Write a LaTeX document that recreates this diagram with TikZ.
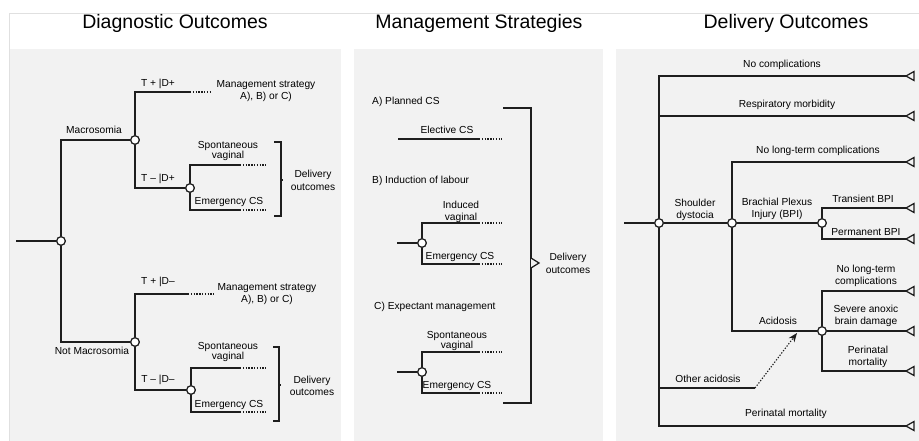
\documentclass[tikz,border=0pt]{standalone}
\usepackage{fontspec}
\setmainfont{Liberation Sans}
\usetikzlibrary{arrows.meta}
\definecolor{panelbg}{HTML}{F2F2F2}
\definecolor{framec}{HTML}{E0E0E0}
\definecolor{inkc}{HTML}{1E1E1E}
\begin{document}
\begin{tikzpicture}[x=1pt,y=-1pt,
  ln/.style={line width=1.25pt,draw=inkc},
  dots/.style={line width=1.2pt,draw=inkc,dash pattern=on 1.3pt off 1.5pt},
  chance/.style={circle,draw=inkc,fill=white,line width=1.15pt,minimum size=8.5pt,inner sep=0pt},
  lbl/.style={font=\fontsize{10.2}{12.5}\selectfont,inner sep=0pt,align=center,text=black},
  lbltight/.style={font=\fontsize{10.2}{10.5}\selectfont,inner sep=0pt,align=center,text=black},
  ttl/.style={font=\fontsize{19.5}{22}\selectfont,inner sep=0pt,anchor=base},
  pics/endL/.style={code={\draw[ln,fill=panelbg] (0,0) -- (8,-4.5) -- (8,4.5) -- cycle;}}
]
\useasboundingbox (0,0) rectangle (919,440);
\fill[white] (0,0) rectangle (919,440);
% frame and panels
\draw[framec,line width=1pt] (9.5,450) -- (9.5,13) -- (930,13);
\fill[panelbg] (10,49) rectangle (341,445);
\fill[panelbg] (354,49) rectangle (603,445);
\fill[panelbg] (616,49) rectangle (925,445);
% titles
\node[ttl] (t-diag) at (175,28.3) {Diagnostic Outcomes};
\node[ttl] (t-man) at (479,28.3) {Management Strategies};
\node[ttl] (t-del) at (786,28.3) {Delivery Outcomes};

%% ================= LEFT PANEL =================
\coordinate (r0) at (16,241);
\node[chance] (c0) at (61,241) {};
\node[chance] (c1) at (135,140) {};
\node[chance] (c2) at (135,342) {};
\node[chance] (c3) at (190,188) {};
\node[chance] (c4) at (191,390) {};
\coordinate (a1) at (190,92);  \coordinate (a1e) at (212,92);
\coordinate (s1) at (240,165); \coordinate (s1e) at (266,165);
\coordinate (e1) at (240,210); \coordinate (e1e) at (266,210);
\coordinate (a2) at (188,294); \coordinate (a2e) at (214,294);
\coordinate (s2) at (240,368); \coordinate (s2e) at (266,368);
\coordinate (e2) at (240,412); \coordinate (e2e) at (266,412);

\draw[ln] (r0) -- (c0);
\draw[ln] (c0) |- (c1);
\draw[ln] (c0) |- (c2);
\draw[ln] (c1) |- (a1);  \draw[dots] (a1) -- (a1e);
\draw[ln] (c1) |- (c3);
\draw[ln] (c3) |- (s1);  \draw[dots] (s1) -- (s1e);
\draw[ln] (c3) |- (e1);  \draw[dots] (e1) -- (e1e);
\draw[ln] (c2) |- (a2);  \draw[dots] (a2) -- (a2e);
\draw[ln] (c2) |- (c4);
\draw[ln] (c4) |- (s2);  \draw[dots] (s2) -- (s2e);
\draw[ln] (c4) |- (e2);  \draw[dots] (e2) -- (e2e);
% redraw circles on top
\foreach \n in {c0,c1,c2,c3,c4} \node[chance] at (\n) {};

% brackets
\coordinate (b1t) at (274,142); \coordinate (b1b) at (274,216); \coordinate (b1m) at (281,180);
\draw[ln] (b1t) -- ++(7,0) -- ++(0,74) -- (b1b);
\draw[ln] (b1m) -- ++(2,0);
\coordinate (b2t) at (273,347); \coordinate (b2b) at (273,421); \coordinate (b2m) at (279,385);
\draw[ln] (b2t) -- ++(6,0) -- ++(0,74) -- (b2b);
\draw[ln] (b2m) -- ++(2,0);

% labels
\node[lbl] (l-mac) at (94,130) {Macrosomia};
\node[lbl] (l-nmac) at (92,351) {Not Macrosomia};
\node[lbl] (l-tpdp) at (158,84) {T + |D+};
\node[lbl] (l-ms1) at (266,91) {Management strategy\\A), B) or C)};
\node[lbl] (l-tmdp) at (158,179) {T – |D+};
\node[lbltight] (l-sv1) at (228,151) {Spontaneous\\vaginal};
\node[lbl] (l-ec1) at (229,202) {Emergency CS};
\node[lbl] (l-do1) at (313,180.5) {Delivery\\outcomes};
\node[lbl] (l-tpdm) at (158,282) {T + |D–};
\node[lbl] (l-ms2) at (267,294) {Management strategy\\A), B) or C)};
\node[lbl] (l-tmdm) at (158,380) {T – |D–};
\node[lbltight] (l-sv2) at (228,352) {Spontaneous\\vaginal};
\node[lbl] (l-ec2) at (229,405) {Emergency CS};
\node[lbl] (l-do2) at (312,386) {Delivery\\outcomes};

%% ================= MIDDLE PANEL =================
\node[lbl,anchor=west] (l-A) at (372,102) {A) Planned CS};
\node[lbl] (l-el) at (447,130) {Elective CS};
\coordinate (el0) at (398,139); \coordinate (el1) at (479,139); \coordinate (el2) at (502,139);
\draw[ln] (el0) -- (el1); \draw[dots] (el1) -- (el2);

\node[lbl,anchor=west] (l-B) at (372,181) {B) Induction of labour};
\coordinate (ib0) at (397,243);
\node[chance] (c5) at (422,243) {};
\coordinate (iv1) at (479,223); \coordinate (iv2) at (502,223);
\coordinate (ie1) at (479,264); \coordinate (ie2) at (502,264);
\draw[ln] (ib0) -- (c5);
\draw[ln] (c5) |- (iv1); \draw[dots] (iv1) -- (iv2);
\draw[ln] (c5) |- (ie1); \draw[dots] (ie1) -- (ie2);
\node[chance] at (c5) {};
\node[lbl] (l-iv) at (461,212) {Induced\\vaginal};
\node[lbl] (l-ie) at (460,257) {Emergency CS};

\node[lbl,anchor=west] (l-C) at (374,307) {C) Expectant management};
\coordinate (xb0) at (397,372);
\node[chance] (c6) at (422,372) {};
\coordinate (xv1) at (479,352); \coordinate (xv2) at (502,352);
\coordinate (xe1) at (479,393); \coordinate (xe2) at (502,393);
\draw[ln] (xb0) -- (c6);
\draw[ln] (c6) |- (xv1); \draw[dots] (xv1) -- (xv2);
\draw[ln] (c6) |- (xe1); \draw[dots] (xe1) -- (xe2);
\node[chance] at (c6) {};
\node[lbltight] (l-xv) at (457,341) {Spontaneous\\vaginal};
\node[lbl] (l-xe) at (457,386) {Emergency CS};

% big bracket with outcome triangle
\coordinate (mbt) at (503,108); \coordinate (mbb) at (503,403);
\coordinate (mtip) at (539,263);
\draw[ln] (mbt) -- ++(28,0) -- ++(0,295) -- (mbb);
\draw[ln,fill=panelbg] (531,258) -- (mtip) -- (531,268);
\node[lbl] (l-do3) at (568,263.5) {Delivery\\outcomes};

%% ================= RIGHT PANEL =================
\coordinate (r1) at (624,223);
\node[chance] (c7) at (659,223) {};
\node[chance] (c8) at (732,223) {};
\node[chance] (c9) at (822,223) {};
\node[chance] (c10) at (822,331) {};
\coordinate (t1) at (906,76);
\coordinate (t2) at (906,116);
\coordinate (t3) at (906,162);
\coordinate (t4) at (906,208);
\coordinate (t5) at (906,239);
\coordinate (t6) at (906,291);
\coordinate (t7) at (906,331);
\coordinate (t8) at (906,371);
\coordinate (t9) at (906,426);
\coordinate (oa) at (755,388);
\coordinate (oatip) at (797,333);

\draw[ln] (r1) -- (c7);
\draw[ln] (c7) |- (t1);
\draw[ln] (c7) |- (t2);
\draw[ln] (c7) |- (oa);
\draw[ln] (c7) |- (t9);
\draw[ln] (c7) -- (c8);
\draw[ln] (c8) |- (t3);
\draw[ln] (c8) |- (c10);
\draw[ln] (c8) -- (c9);
\draw[ln] (c9) |- (t4);
\draw[ln] (c9) |- (t5);
\draw[ln] (c10) |- (t6);
\draw[ln] (c10) -- (t7);
\draw[ln] (c10) |- (t8);
\draw[line width=1.1pt,draw=inkc,dash pattern=on 1.3pt off 1.6pt,-{Stealth[length=9pt,width=7pt]}] (oa) -- (oatip);
\foreach \n in {c7,c8,c9,c10} \node[chance] at (\n) {};
\foreach \t in {t1,t2,t3,t4,t5,t6,t7,t8,t9} \pic at (\t) {endL};

\node[lbl] (l-nc) at (782,65) {No complications};
\node[lbl] (l-rm) at (787,105) {Respiratory morbidity};
\node[lbl] (l-sd) at (695,210) {Shoulder\\dystocia};
\node[lbl] (l-nl1) at (818,151) {No long-term complications};
\node[lbl] (l-bpi) at (777,209) {Brachial Plexus\\Injury (BPI)};
\node[lbl] (l-tb) at (863,199) {Transient BPI};
\node[lbl] (l-pb) at (866,232) {Permanent BPI};
\node[lbl] (l-ac) at (778,321) {Acidosis};
\node[lbl] (l-nl2) at (866,276) {No long-term\\complications};
\node[lbl] (l-sa) at (866,316) {Severe anoxic\\brain damage};
\node[lbl] (l-pm1) at (868,357) {Perinatal\\mortality};
\node[lbl] (l-oa) at (708,379) {Other acidosis};
\node[lbl] (l-pm2) at (786,414) {Perinatal mortality};
\end{tikzpicture}
\end{document}
